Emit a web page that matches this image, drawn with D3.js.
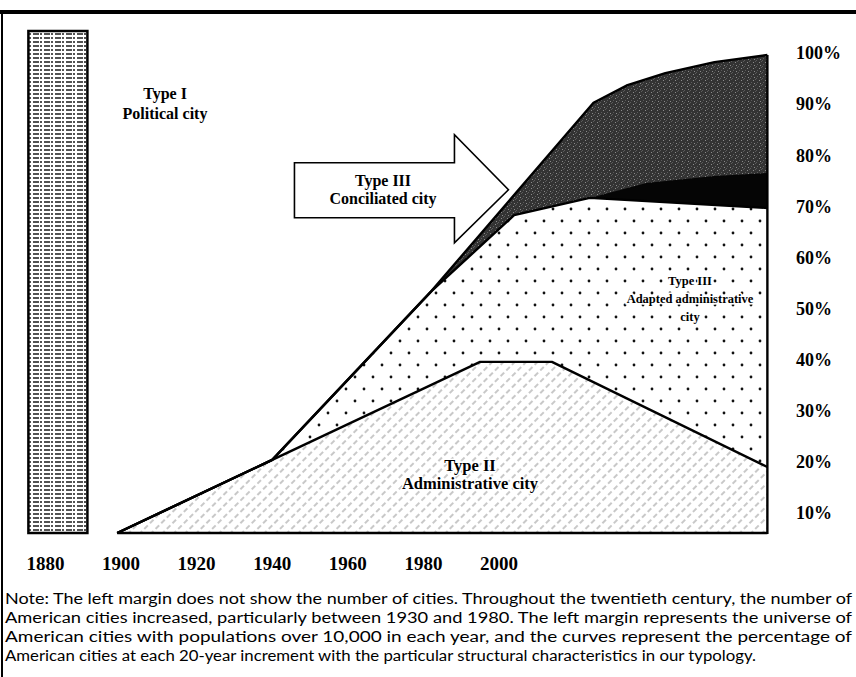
<!DOCTYPE html>
<html><head><meta charset="utf-8">
<script src="https://cdn.jsdelivr.net/npm/d3@7"></script>
<style>
html,body{margin:0;padding:0;background:#fff;}
svg{display:block;}
</style></head>
<body>
<script>
// ---------- DATA ----------
// x labels along the bottom
const yearTicks = [1880, 1900, 1920, 1940, 1960, 1980, 2000];
// right-margin percentage labels
const pctTicks = [100, 90, 80, 70, 60, 50, 40, 30, 20, 10];
// cumulative boundaries, [year, percent of all cities]
const typeIITop   = [[1899, 0], [1940, 15.3], [1995, 35.8], [2014, 35.8], [2071, 13.8]];
const adaptedTop  = [[1899, 0], [1940, 15.3], [1982, 50.5], [2004, 66.5], [2024, 70.1], [2071, 68.0]];
const blackTop    = [[2024, 70.1], [2039, 73.2], [2057, 74.7], [2071, 75.3]];
const totalTop    = [[1899, 0], [1940, 15.3], [1982, 50.5], [2025, 90.0], [2034, 93.7], [2044, 96.2], [2057, 98.5], [2071, 100]];
const baseLine    = [[1899, 0], [2071, 0]];
const marginYear  = 1880;   // the left margin bar: universe of cities (all Type I)
const marginShare = 100;
const noteLines = [
  "Note:  The left margin does not show the number of cities. Throughout the twentieth century, the number of",
  "American cities increased, particularly between 1930 and 1980. The left margin represents the universe of",
  "American cities with populations over 10,000 in each year, and the curves represent the percentage of",
  "American cities at each 20-year increment with the particular structural characteristics in our typology."
];

// ---------- SETUP ----------
const W = 856, H = 677;
const svg = d3.select("body").append("svg").attr("width", W).attr("height", H);
const x = d3.scaleLinear().domain([1900, 2000]).range([121, 499]);
const y = d3.scaleLinear().domain([0, 100]).range([533, 55]);
// the printed right-margin scale of the original figure
const yLab = d3.scaleLinear().domain([10, 100]).range([513, 53]);

const defs = svg.append("defs");
// diagonal hatch for Type II
const ph = defs.append("pattern").attr("id", "hatch").attr("patternUnits", "userSpaceOnUse")
  .attr("width", 8).attr("height", 8).attr("patternTransform", "rotate(-45)");
ph.append("rect").attr("width", 8).attr("height", 8).attr("fill", "#fff");
ph.append("line").attr("x1", 0).attr("y1", 4).attr("x2", 8).attr("y2", 4)
  .attr("stroke", "#858585").attr("stroke-width", 0.9).attr("stroke-dasharray", "5,3");
// dots for adapted administrative
const pd = defs.append("pattern").attr("id", "dots").attr("patternUnits", "userSpaceOnUse")
  .attr("width", 18).attr("height", 24);
pd.append("rect").attr("width", 18).attr("height", 24).attr("fill", "#fff");
pd.append("circle").attr("cx", 4).attr("cy", 5).attr("r", 1.4).attr("fill", "#111");
pd.append("circle").attr("cx", 13).attr("cy", 17).attr("r", 1.4).attr("fill", "#111");
// dark stipple for conciliated
const pg = defs.append("pattern").attr("id", "stip").attr("patternUnits", "userSpaceOnUse")
  .attr("width", 6).attr("height", 6);
pg.append("rect").attr("width", 6).attr("height", 6).attr("fill", "#333");
[[0,0],[3,2],[1,4],[4,5],[5,1]].forEach(([a,b],i) =>
  pg.append("rect").attr("x", a).attr("y", b).attr("width", 1).attr("height", 1)
    .attr("fill", i % 2 ? "#8a8a8a" : "#5c5c5c"));
// horizontal hatch for margin bar
const pb = defs.append("pattern").attr("id", "hbar").attr("patternUnits", "userSpaceOnUse")
  .attr("width", 11).attr("height", 4);
pb.append("rect").attr("width", 11).attr("height", 4).attr("fill", "#fff");
pb.append("line").attr("x1", 0).attr("y1", 2).attr("x2", 11).attr("y2", 2)
  .attr("stroke", "#1a1a1a").attr("stroke-width", 1.3).attr("stroke-dasharray", "6,1,2,2");

const line = d3.line().x(d => x(d[0])).y(d => y(d[1]));
const band = (upper, lower) => line([...upper, ...lower.slice().reverse()]) + "Z";

// ---------- FRAME ----------
svg.append("rect").attr("x", 0).attr("y", 10).attr("width", W).attr("height", 4).attr("fill", "#000");
svg.append("rect").attr("x", 1).attr("y", 12).attr("width", 2).attr("height", H - 12).attr("fill", "#000");

// ---------- AREAS ----------
const g = svg.append("g");
g.append("path").attr("d", band(typeIITop, baseLine)).attr("fill", "url(#hatch)");
g.append("path").attr("d", band(adaptedTop, typeIITop)).attr("fill", "url(#dots)");
g.append("path").attr("d", band(totalTop, adaptedTop)).attr("fill", "url(#stip)");
g.append("path").attr("d", band(blackTop, adaptedTop.filter(d => d[0] >= 2024))).attr("fill", "#050505");

// boundary lines
[typeIITop, adaptedTop, totalTop, baseLine].forEach(b =>
  g.append("path").attr("d", line(b)).attr("fill", "none").attr("stroke", "#000")
    .attr("stroke-width", 2.4).attr("stroke-linejoin", "round"));
g.append("line").attr("x1", x(2071)).attr("x2", x(2071)).attr("y1", y(0) + 1).attr("y2", y(100))
  .attr("stroke", "#000").attr("stroke-width", 2.4);

// margin bar
const bx = x(marginYear) - 17, bw = 59;
g.append("rect").attr("x", bx).attr("y", y(marginShare) - 24).attr("width", bw)
  .attr("height", y(0) - y(marginShare) + 24).attr("fill", "url(#hbar)")
  .attr("stroke", "#000").attr("stroke-width", 2.5);

// ---------- ARROW ----------
const tipX = x(2002.5), tipY = y(71.8);
const arrowPts = [[tipX - 214, tipY - 27], [tipX - 54, tipY - 27], [tipX - 54, tipY - 55], [tipX, tipY],
  [tipX - 54, tipY + 53], [tipX - 54, tipY + 28], [tipX - 214, tipY + 28]];
g.append("path").attr("d", d3.line()(arrowPts) + "Z").attr("fill", "#fff")
  .attr("stroke", "#000").attr("stroke-width", 1.6).attr("stroke-linejoin", "miter");

// ---------- TEXT ----------
const serif = "'Liberation Serif','Times New Roman',serif";
function label(lines, cx, cy, size, lh) {
  const t = svg.append("text").attr("font-family", serif).attr("font-weight", "bold")
    .attr("font-size", size).attr("text-anchor", "middle").attr("fill", "#000");
  lines.forEach((s, i) => t.append("tspan").attr("x", cx).attr("y", cy + i * lh).attr("dy", "0.35em").text(s));
  return t;
}
label(["Type I", "Political city"], 165, 93, 16, 20);
label(["Type III", "Conciliated city"], 383, 180, 16, 18);
label(["Type III", "Adapted administrative", "city"], 690, 281, 12.5, 18)
  .attr("stroke", "#fff").attr("stroke-width", 3).attr("paint-order", "stroke");
label(["Type II", "Administrative city"], 470, 465, 16.5, 18)
  .attr("stroke", "#fff").attr("stroke-width", 2.5).attr("paint-order", "stroke");

// right margin labels
svg.append("g").selectAll("text").data(pctTicks).join("text")
  .attr("x", 796).attr("y", d => yLab(d)).attr("dy", "0.35em")
  .attr("font-family", serif).attr("font-weight", "bold").attr("font-size", 18)
  .text(d => d + "%");

// bottom year labels
svg.append("g").selectAll("text").data(yearTicks).join("text")
  .attr("x", d => x(d)).attr("y", 563).attr("dy", "0.35em").attr("text-anchor", "middle")
  .attr("font-family", serif).attr("font-weight", "bold").attr("font-size", 19)
  .text(d => d);

// note
const note = svg.append("g").attr("font-family", "Lato, 'Noto Sans', sans-serif").attr("font-size", 15.5).attr("fill", "#000");
noteLines.forEach((s, i) => {
  note.append("text").attr("x", 5).attr("y", 604 + i * 19)
    .attr("textLength", i < 3 ? 847 : 751).attr("lengthAdjust", "spacingAndGlyphs").text(s);
});
</script>
</body></html>
